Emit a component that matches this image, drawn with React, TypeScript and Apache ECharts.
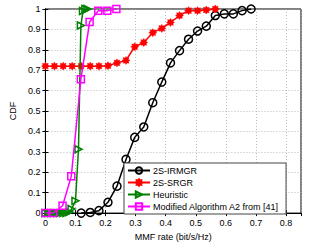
import React, { useEffect, useRef } from "react";
import * as echarts from "echarts";

// 2S-IRMGR
const irmgrX = [0.119, 0.149, 0.178, 0.208, 0.238, 0.268, 0.297, 0.327, 0.357, 0.387, 0.416, 0.446, 0.476, 0.506, 0.535, 0.565, 0.595, 0.625, 0.654, 0.684];
const irmgrY = [0, 0.003, 0.012, 0.053, 0.132, 0.263, 0.371, 0.422, 0.541, 0.642, 0.736, 0.796, 0.852, 0.892, 0.916, 0.968, 0.976, 0.976, 0.992, 1.0];
// 2S-SRGR
const srgrX = [0, 0.03, 0.059, 0.089, 0.119, 0.149, 0.178, 0.208, 0.238, 0.268, 0.297, 0.327, 0.357, 0.387, 0.416, 0.446, 0.476, 0.506, 0.535, 0.565];
const srgrY = [0.72, 0.72, 0.72, 0.72, 0.72, 0.72, 0.72, 0.722, 0.736, 0.748, 0.815, 0.836, 0.884, 0.905, 0.934, 0.968, 0.992, 0.992, 0.995, 1.0];
// Heuristic
const heurX = [0, 0.01, 0.02, 0.03, 0.04, 0.05, 0.06, 0.07, 0.08, 0.087, 0.1, 0.11, 0.118, 0.125, 0.133, 0.14];
const heurY = [0, 0, 0, 0, 0, 0, 0, 0, 0.005, 0.02, 0.06, 0.313, 0.919, 0.99, 1.0, 1.0];
// Modified Algorithm A2 from [41]
const modX = [0, 0.026, 0.057, 0.086, 0.118, 0.147, 0.176, 0.206, 0.236];
const modY = [0, 0, 0.036, 0.18, 0.656, 0.936, 0.992, 0.992, 1.0];

const seriesNames = ["2S-IRMGR", "2S-SRGR", "Heuristic", "Modified Algorithm A2 from [41]"];
const xTickMax = 0.85;

function starPath(): string {
  const pts: string[] = [];
  const n = 8;
  for (let i = 0; i < n * 2; i++) {
    const r = i % 2 === 0 ? 10 : 6.5;
    const a = (Math.PI * i) / n - Math.PI / 2;
    pts.push(`${(10 + r * Math.cos(a)).toFixed(2)},${(10 + r * Math.sin(a)).toFixed(2)}`);
  }
  return "path://M" + pts.join(" L") + " Z";
}

const zip = (xs: number[], ys: number[]) => xs.map((x, i) => [x, ys[i]]);

export default function App() {
  const ref = useRef<HTMLDivElement>(null);
  useEffect(() => {
    document.body.style.margin = "0";
    if (!ref.current) return;
    const chart = echarts.init(ref.current, undefined, { renderer: "svg" });
    const font = "Liberation Sans, Arial, Helvetica, sans-serif";
    const splitLine = { show: true, lineStyle: { type: [1, 2] as any, color: "#aaa", width: 0.8 } };
    const lw = 1.5;
    chart.setOption({
      animation: false,
      textStyle: { fontFamily: font },
      grid: { left: 34, right: 14, top: 9, bottom: 28, show: true, borderColor: "#000", borderWidth: 1, backgroundColor: "#fff" },
      legend: {
        orient: "vertical",
        left: 124,
        top: 163,
        padding: [2, 7, 2, 3],
        itemWidth: 22,
        itemHeight: 8,
        itemGap: 1,
        backgroundColor: "#fff",
        borderColor: "#444",
        borderWidth: 1,
        borderRadius: 0,
        textStyle: { fontSize: 9, color: "#000", fontFamily: font, lineHeight: 11, padding: [0, 0, 0, -2] },
        data: seriesNames,
      },
      xAxis: [
        {
          type: "value",
          min: 0,
          max: xTickMax,
          interval: 0.1,
          name: "MMF rate (bit/s/Hz)",
          nameLocation: "middle",
          nameGap: 14,
          nameTextStyle: { fontSize: 9, color: "#000", fontFamily: font },
          axisLine: { show: true, lineStyle: { color: "#000" } },
          axisTick: { show: true, inside: true, length: 3, lineStyle: { color: "#000" } },
          axisLabel: { fontSize: 9, color: "#000", margin: 5, showMaxLabel: false },
          splitLine,
        },
        {
          type: "value",
          position: "top",
          min: 0,
          max: xTickMax,
          interval: 0.1,
          axisLine: { show: true, lineStyle: { color: "#000" } },
          axisTick: { show: true, inside: true, length: 3, lineStyle: { color: "#000" } },
          axisLabel: { show: false },
          splitLine: { show: false },
        },
      ],
      yAxis: [
        {
          type: "value",
          min: 0,
          max: 1,
          interval: 0.1,
          name: "CDF",
          nameLocation: "middle",
          nameGap: 19,
          nameTextStyle: { fontSize: 9, color: "#000", fontFamily: font },
          axisLine: { show: true, lineStyle: { color: "#000" } },
          axisTick: { show: true, inside: true, length: 3, lineStyle: { color: "#000" } },
          axisLabel: { fontSize: 9, color: "#000", margin: 5 },
          splitLine,
        },
        {
          type: "value",
          position: "right",
          min: 0,
          max: 1,
          interval: 0.1,
          axisLine: { show: true, lineStyle: { color: "#000" } },
          axisTick: { show: true, inside: true, length: 3, lineStyle: { color: "#000" } },
          axisLabel: { show: false },
          splitLine: { show: false },
        },
      ],
      series: [
        {
          name: seriesNames[0],
          type: "line",
          data: zip(irmgrX, irmgrY),
          symbol: "circle",
          symbolSize: 8,
          lineStyle: { color: "#000", width: lw },
          itemStyle: { color: "rgba(255,255,255,0)", borderColor: "#000", borderWidth: lw },
          z: 2,
        },
        {
          name: seriesNames[1],
          type: "line",
          data: zip(srgrX, srgrY),
          symbol: starPath(),
          symbolSize: 8,
          lineStyle: { color: "#ff0000", width: lw },
          itemStyle: { color: "#ff0000", borderColor: "#ff0000", borderWidth: 0.5 },
          z: 3,
        },
        {
          name: seriesNames[2],
          type: "line",
          data: zip(heurX, heurY),
          symbol: "path://M0,0 L10,5 L0,10 Z",
          symbolSize: 7,
          lineStyle: { color: "#008000", width: lw },
          itemStyle: { color: "rgba(255,255,255,0)", borderColor: "#008000", borderWidth: lw },
          z: 4,
        },
        {
          name: seriesNames[3],
          type: "line",
          data: zip(modX, modY),
          symbol: "rect",
          symbolSize: 7,
          lineStyle: { color: "#ff00ff", width: lw },
          itemStyle: { color: "rgba(255,255,255,0)", borderColor: "#ff00ff", borderWidth: lw },
          z: 5,
        },
      ],
    });
    return () => chart.dispose();
  }, []);
  return <div ref={ref} style={{ width: 315, height: 246 }} />;
}
